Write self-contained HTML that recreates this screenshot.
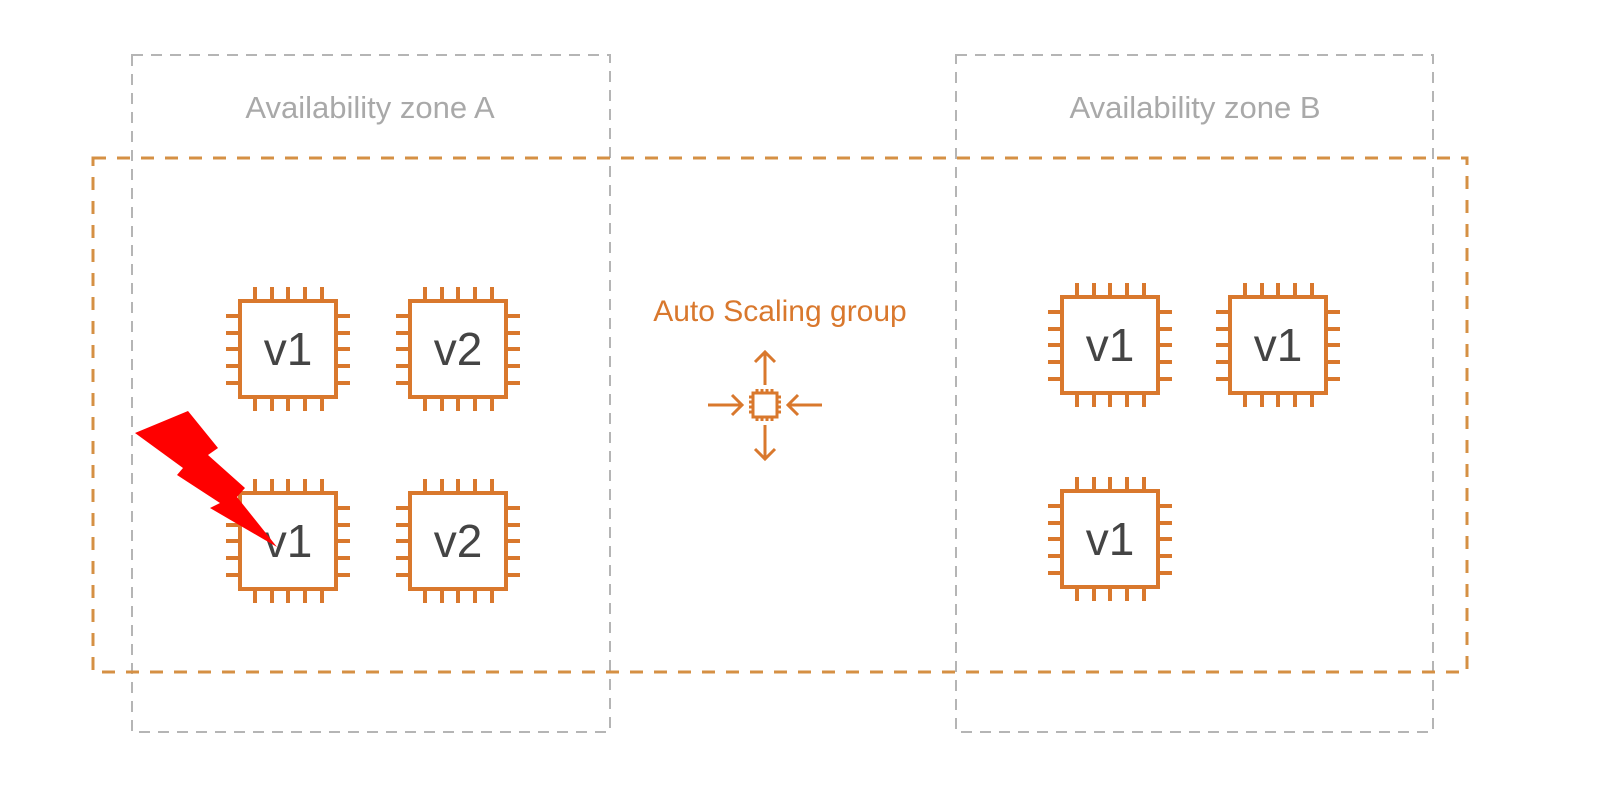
<!DOCTYPE html>
<html><head><meta charset="utf-8"><style>
html,body{margin:0;padding:0;background:#fff;}
svg{display:block}
text{font-family:"Liberation Sans",sans-serif}
</style></head><body>
<svg width="1600" height="790" viewBox="0 0 1600 790" xmlns="http://www.w3.org/2000/svg">
<defs>
<g id="chip" fill="none" stroke="#d9782d" stroke-width="4">
<rect x="0" y="0" width="96" height="96" fill="#fff"/>
<path d="M15 0v-14M32 0v-14M48 0v-14M65 0v-14M82 0v-14 M15 96v14M32 96v14M48 96v14M65 96v14M82 96v14 M0 15h-14M0 32h-14M0 48h-14M0 65h-14M0 82h-14 M96 15h14M96 32h14M96 48h14M96 65h14M96 82h14"/>
</g>
</defs>
<rect x="132" y="55" width="478" height="677" fill="none" stroke="#b5b5b5" stroke-width="2" stroke-dasharray="11,8"/>
<rect x="956" y="55" width="477" height="677" fill="none" stroke="#b5b5b5" stroke-width="2" stroke-dasharray="11,8"/>
<rect x="93" y="158" width="1374" height="514" fill="none" stroke="#d59044" stroke-width="3" stroke-dasharray="13,11"/>
<text x="370" y="118" font-size="31" fill="#a9a9a9" text-anchor="middle">Availability zone A</text>
<text x="1195" y="118" font-size="31" fill="#a9a9a9" text-anchor="middle">Availability zone B</text>
<text x="780" y="321" font-size="30" fill="#d9782d" text-anchor="middle">Auto Scaling group</text>

<use href="#chip" x="240" y="301"/>
<use href="#chip" x="410" y="301"/>
<use href="#chip" x="240" y="493"/>
<use href="#chip" x="410" y="493"/>
<use href="#chip" x="1062" y="297"/>
<use href="#chip" x="1230" y="297"/>
<use href="#chip" x="1062" y="491"/>
<g font-size="46" fill="#444" text-anchor="middle">
<text x="288" y="365">v1</text>
<text x="458" y="365">v2</text>
<text x="288" y="557">v1</text>
<text x="458" y="557">v2</text>
<text x="1110" y="361">v1</text>
<text x="1278" y="361">v1</text>
<text x="1110" y="555">v1</text>
</g>

<g fill="none" stroke="#d9782d" stroke-width="3">
<rect x="753" y="393" width="24" height="24" fill="#fff"/>
<path d="M757 393v-4M762 393v-4M767 393v-4M772 393v-4 M757 417v4M762 417v4M767 417v4M772 417v4 M753 397h-4M753 402h-4M753 407h-4M753 412h-4 M777 397h4M777 402h4M777 407h4M777 412h4"/>
<path d="M765 385v-32M755 362l10-10 10 10"/>
<path d="M765 425v33M755 449l10 10 10-10"/>
<path d="M708 405h33M732 395l10 10-10 10"/>
<path d="M822 405h-33M798 395l-10 10 10 10"/>
</g>

<polygon points="135,433 188,411 218,448 208,455 245,488 237,497 277,547 210,508 220,503 177,475 183,468" fill="#f00"/>
</svg>
</body></html>
